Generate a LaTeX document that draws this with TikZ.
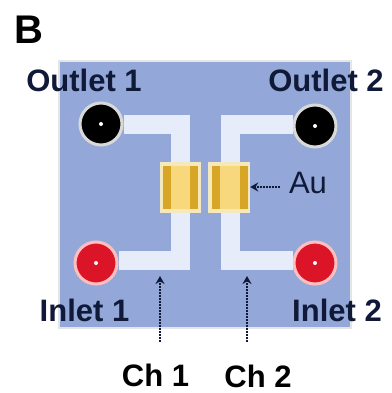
\documentclass[tikz,border=0pt]{standalone}
\usepackage{fontspec}
\setmainfont{Liberation Sans}
\usetikzlibrary{arrows.meta}

\definecolor{plateblue}{HTML}{93A8D8}
\definecolor{channelwhite}{HTML}{E6ECF9}
\definecolor{padpale}{HTML}{F5E8BC}
\definecolor{padyellow}{HTML}{F8D87C}
\definecolor{paddark}{HTML}{D8A626}
\definecolor{portred}{HTML}{DC1428}
\definecolor{labelnavy}{HTML}{101A38}

\begin{document}
\begin{tikzpicture}[x=1pt, y=-1pt, font=\fontsize{31}{33}\selectfont\bfseries, inner sep=0pt,
    port/.style={circle, minimum size=42pt, line width=3pt},
    channel/.style={line width=19pt, channelwhite, line join=miter},
    pointer/.style={densely dotted, line width=2pt, labelnavy, -{Stealth[length=8pt, width=9pt]}},
    pad/.style={minimum width=#1, minimum height=51pt, fill=padpale},
    strip/.style={minimum width=8pt, minimum height=43pt, fill=paddark}]

\useasboundingbox (0,0) rectangle (391,393);
\fill [plateblue, draw=black!10, line width=1.5pt] (59,61) rectangle (351,328);

\coordinate (ch1top) at (180,124.5);
\coordinate (ch1bot) at (180,260.5);
\coordinate (ch2top) at (230,124.5);
\coordinate (ch2bot) at (230,260.5);

% ports
\node [port, fill=black, draw=black!15] (outlet1) at (101,124) {};
\node [port, fill=black, draw=black!15] (outlet2) at (315,126) {};
\node [port, fill=portred, draw=red!25] (inlet1) at (96,263) {};
\node [port, fill=portred, draw=red!25] (inlet2) at (315,263) {};

\foreach \p in {outlet1, outlet2, inlet1, inlet2}
    \fill [white] (\p) circle (2pt);

% channels
\draw [channel] (outlet1.east |- ch1top) -- (ch1top) -- (ch1bot) -- (inlet1.east |- ch1bot);
\draw [channel] (outlet2.west |- ch2top) -- (ch2top) -- (ch2bot) -- (inlet2.west |- ch2bot);

% gold pads
\node [pad=41pt] (pad1) at (180.5,187.5) {};
\node [pad=42pt] (pad2) at (229,187.5) {};
\fill [padyellow] (170,166) rectangle (190,209);
\fill [padyellow] (220,166) rectangle (240,209);
\node [strip] (strip1) at (166.5,187.5) {};
\node [strip] (strip2) at (194,187.5) {};
\node [strip] (strip3) at (216,187.5) {};
\node [strip] (strip4) at (243.5,187.5) {};

% labels
\node [text=labelnavy] (lblout1) at (84,80) {Outlet 1};
\node [text=labelnavy] (lblout2) at (326,80) {Outlet 2};
\node [text=labelnavy] (lblin1) at (84.5,310) {Inlet 1};
\node [text=labelnavy] (lblin2) at (337,310) {Inlet 2};
\node [text=black, font=\fontsize{40}{42}\selectfont\bfseries] (lblB) at (29,30) {B};
\node [text=black] (lblch1) at (155.5,375) {Ch 1};
\node [text=black] (lblch2) at (258,376) {Ch 2};
\node [text=labelnavy, font=\fontsize{31}{33}\selectfont] (lblau) at (308,183) {Au};

% pointers
\coordinate (auend) at (280,187);
\coordinate (ch1end) at (160,342);
\coordinate (ch2end) at (247,342);
\coordinate (ch1tip) at (160,276);
\coordinate (ch2tip) at (247,276);
\draw [pointer] (auend) -- (pad2.east |- auend);
\draw [pointer] (ch1end) -- (ch1tip);
\draw [pointer] (ch2end) -- (ch2tip);

\end{tikzpicture}
\end{document}
